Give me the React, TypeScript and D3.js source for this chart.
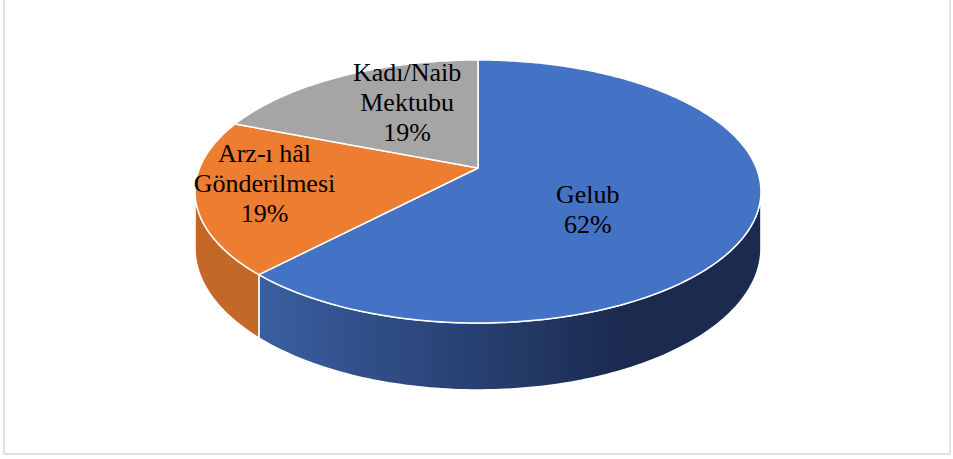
import React from "react";
import { pie, range, format } from "d3";

const categories = ["Gelub", "Arz-ı hâl Gönderilmesi", "Kadı/Naib Mektubu"];
const labelLines = [["Gelub"], ["Arz-ı hâl", "Gönderilmesi"], ["Kadı/Naib", "Mektubu"]];
const values = [62, 19, 19];
const topColors = ["#4472C4", "#ED7D31", "#A5A5A5"];
const sideColors = [
    ["#3A5FA1", "#1B2B50"],
    ["#C4682A", "#C96C2B"],
    ["#7C7C7C", "#6A6A6A"],
];
// label spot on the top face: [angle in degrees, fraction of radius]
const labelAt: [number, number][] = [
    [129, 0.48],
    [261, 0.76],
    [334, 0.64],
];

const W = 953;
const H = 459;

// simple perspective for the disc
const cx = 478;
const cy = 168;
const A = 278.4;
const B = 127.3;
const k = 0.1787;
const depth = 55;

const proj = (theta: number, r = 1, down = false): [number, number] => {
    const u = r * Math.sin(theta);
    const v = -r * Math.cos(theta);
    const w = 1 - k * v;
    return [cx + (A * u) / w, cy + (B * v) / w + (down ? depth / w : 0)];
};

const arcPts = (a0: number, a1: number, down = false) => {
    const n = Math.max(2, Math.ceil(((a1 - a0) * 180) / Math.PI));
    return range(n + 1).map((i) => proj(a0 + ((a1 - a0) * i) / n, 1, down));
};

const toPath = (pts: [number, number][]) =>
    "M" + pts.map((p) => `${p[0].toFixed(2)},${p[1].toFixed(2)}`).join("L") + "Z";

const silL = Math.PI / 2 + Math.asin(k);
const silR = (3 * Math.PI) / 2 - Math.asin(k);

export default function App() {
    const arcs = pie<number>().sort(null)(values);
    const total = values.reduce((a, b) => a + b, 0);
    const pct = format(".0%");

    return (
        <div>
            <style>{`body{margin:0}`}</style>
            <svg width={W} height={H} style={{ display: "block", background: "#fff" }}>
                <defs>
                    {sideColors.map((c, i) => (
                        <linearGradient key={i} id={`side-${i}`} gradientUnits="userSpaceOnUse" x1={260} x2={740} y1={0} y2={0}>
                            <stop offset="0%" stopColor={c[0]} />
                            <stop offset="75%" stopColor={c[1]} />
                            <stop offset="100%" stopColor={c[1]} />
                        </linearGradient>
                    ))}
                </defs>

                {/* frame */}
                <rect x={4} y={-4} width={946} height={458} fill="none" stroke="#D9D9D9" strokeWidth={1.5} />

                {/* side walls */}
                {arcs.map((a, i) => {
                    const s = Math.max(a.startAngle, silL);
                    const e = Math.min(a.endAngle, silR);
                    if (e <= s) return null;
                    const pts = [...arcPts(s, e), ...arcPts(s, e, true).reverse()];
                    return (
                        <path key={i} d={toPath(pts)} fill={`url(#side-${i})`} stroke="#fff" strokeWidth={1.5} strokeLinejoin="round" />
                    );
                })}

                {/* top faces */}
                {arcs.map((a, i) => {
                    const pts: [number, number][] = [[cx, cy], ...arcPts(a.startAngle, a.endAngle)];
                    return (
                        <path key={i} d={toPath(pts)} fill={topColors[i]} stroke="#fff" strokeWidth={1.5} strokeLinejoin="round" />
                    );
                })}

                {/* labels */}
                {arcs.map((a, i) => {
                    const [deg, r] = labelAt[i];
                    const [lx, ly] = proj((deg * Math.PI) / 180, r);
                    const lines = [...labelLines[i], pct(values[i] / total)];
                    const first = ly - ((lines.length - 1) * 30) / 2 + 9;
                    return (
                        <text
                            key={i}
                            textAnchor="middle"
                            fontFamily="'Liberation Serif', 'Times New Roman', serif"
                            fontSize={26}
                            fill="#000"
                            aria-label={categories[i]}
                        >
                            {lines.map((t, j) => (
                                <tspan key={j} x={lx} y={first + j * 30}>
                                    {t}
                                </tspan>
                            ))}
                        </text>
                    );
                })}
            </svg>
        </div>
    );
}
